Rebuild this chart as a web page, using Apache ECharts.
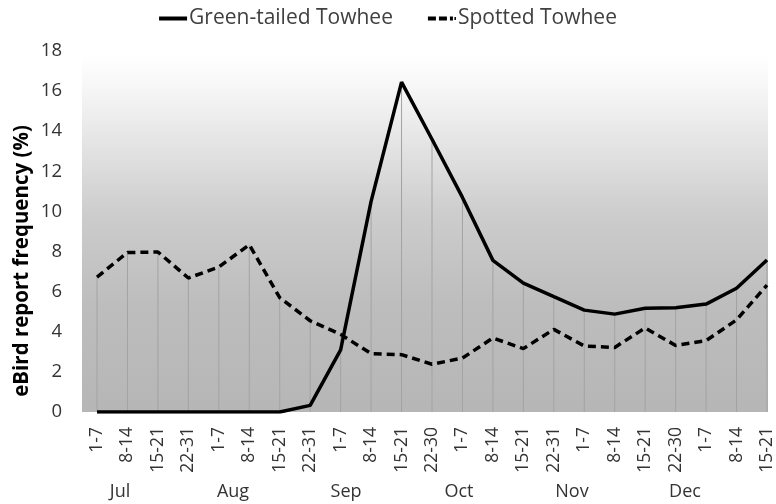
<!DOCTYPE html>
<html>
<head>
<meta charset="utf-8">
<script src="https://cdn.jsdelivr.net/npm/echarts@6/dist/echarts.min.js"></script>
<style>html,body{margin:0;padding:0;background:#fff;}#c{width:776px;height:504px;}</style>
</head>
<body>
<div id="c"></div>
<script>
const categories = ['1-7','8-14','15-21','22-31','1-7','8-14','15-21','22-31','1-7','8-14','15-21','22-30','1-7','8-14','15-21','22-31','1-7','8-14','15-21','22-30','1-7','8-14','15-21'];
const months = ['Jul','Aug','Sep','Oct','Nov','Dec'];
const greenTailed = [0,0,0,0,0,0,0,0.33,3.1,10.5,16.45,13.6,10.7,7.56,6.43,5.75,5.08,4.88,5.17,5.2,5.38,6.17,7.58];
const spotted = [6.73,7.95,7.98,6.68,7.23,8.34,5.7,4.55,3.87,2.91,2.86,2.38,2.69,3.69,3.16,4.12,3.29,3.22,4.19,3.32,3.56,4.59,6.33];
const yTicks = {min: 0, max: 18, interval: 2};

const dropLines = greenTailed.map((v, i) => Math.max(v, spotted[i]));
const FONT = 'Open Sans';

const chart = echarts.init(document.getElementById('c'), null, {renderer: 'canvas'});
chart.setOption({
  animation: false,
  backgroundColor: '#ffffff',
  textStyle: {fontFamily: FONT},
  graphic: [
    {
      type: 'rect', z: -10, silent: true,
      shape: {x: 82, y: 56, width: 686, height: 356},
      style: {
        fill: new echarts.graphic.LinearGradient(0, 0, 0, 1, [
          {offset: 0, color: '#ffffff'},
          {offset: 0.12, color: '#f3f3f3'},
          {offset: 0.45, color: '#cccccc'},
          {offset: 0.7, color: '#bdbdbd'},
          {offset: 1, color: '#b6b6b6'}
        ])
      }
    },
    {
      type: 'text', silent: true,
      x: 22, y: 261, rotation: Math.PI / 2,
      style: {
        text: 'eBird report frequency (%)',
        fontFamily: FONT, fontSize: 20.5, fontWeight: 'bold', fill: '#000',
        textAlign: 'center', textVerticalAlign: 'middle'
      }
    }
  ],
  legend: {
    top: 3, left: 'center',
    itemWidth: 28, itemHeight: 4, itemGap: 35,
    data: [
      {name: 'Green-tailed Towhee', icon: 'path://M0,0H28V4H0Z'},
      {name: 'Spotted Towhee', icon: 'path://M0,0H8V4H0Z M11,0H19V4H11Z M22,0H25V4H22Z M26.5,0.5H28V3.5H26.5Z'}
    ],
    itemStyle: {color: '#000', borderWidth: 0},
    textStyle: {fontFamily: FONT, fontSize: 21, color: '#404040', padding: [0, 0, 0, -3]}
  },
  grid: [
    {left: 97, right: 9, top: 51, bottom: 92, containLabel: false},
    {left: 63.5, right: 34.5, top: 478, height: 1, containLabel: false}
  ],
  xAxis: [
    {
      type: 'category', gridIndex: 0, data: categories, boundaryGap: false,
      axisLine: {show: false}, axisTick: {show: false}, splitLine: {show: false},
      axisLabel: {rotate: 90, margin: 15, interval: 0, fontSize: 17.5, color: '#333333', fontFamily: FONT}
    },
    {
      type: 'category', gridIndex: 1, data: months, boundaryGap: true,
      axisLine: {show: false}, axisTick: {show: false}, splitLine: {show: false},
      axisLabel: {margin: 4, interval: 0, fontSize: 18, color: '#333333', fontFamily: FONT}
    }
  ],
  yAxis: [
    {
      type: 'value', gridIndex: 0, min: yTicks.min, max: yTicks.max, interval: yTicks.interval,
      axisLine: {show: false}, axisTick: {show: false}, splitLine: {show: false},
      axisLabel: {margin: 35, fontSize: 18.5, color: '#333333', fontFamily: FONT}
    },
    {type: 'value', gridIndex: 1, show: false}
  ],
  series: [
    {
      name: 'drop', type: 'bar', xAxisIndex: 0, yAxisIndex: 0,
      data: dropLines, barWidth: 1, z: 1, silent: true,
      itemStyle: {color: '#a3a3a3'}
    },
    {
      name: 'Green-tailed Towhee', type: 'line', xAxisIndex: 0, yAxisIndex: 0,
      data: greenTailed, symbol: 'none', z: 5,
      lineStyle: {color: '#000', width: 3.5, type: 'solid'},
      itemStyle: {color: '#000'}
    },
    {
      name: 'Spotted Towhee', type: 'line', xAxisIndex: 0, yAxisIndex: 0,
      data: spotted, symbol: 'none', z: 4,
      lineStyle: {color: '#000', width: 3.5, type: [8, 5]},
      itemStyle: {color: '#000'}
    }
  ]
});
</script>
</body>
</html>
